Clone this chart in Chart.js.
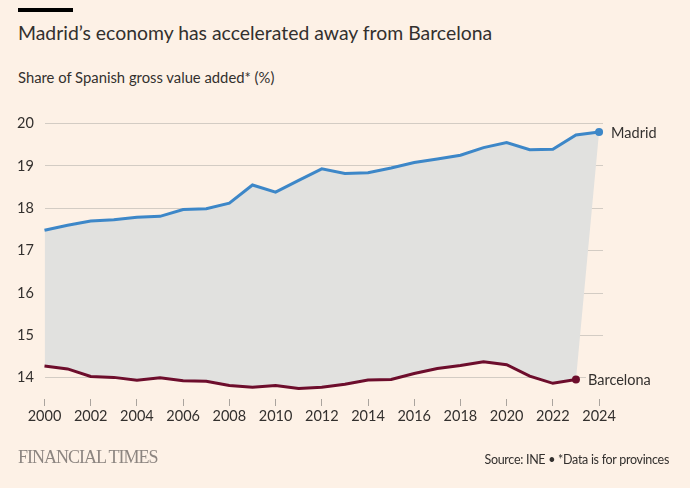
<!DOCTYPE html>
<html>
<head>
<meta charset="utf-8">
<script src="https://cdn.jsdelivr.net/npm/chart.js@4/dist/chart.umd.min.js"></script>
<style>
  body { margin: 0; background: #fdf1e6; width: 690px; height: 488px; overflow: hidden; position: relative; font-family: Lato, sans-serif; color: #33302e; }
  #chart-wrap { position: absolute; left: 0; top: 0; width: 690px; height: 488px; }
  .bar { position: absolute; left: 18px; top: 8px; width: 55px; height: 4px; background: #000; }
  .title { position: absolute; left: 18px; top: 21px; font-size: 19.4px; white-space: nowrap; }
  .subtitle { position: absolute; left: 18px; top: 68px; font-size: 14.8px; white-space: nowrap; }
  .ft { position: absolute; left: 18px; top: 447px; font-family: "Liberation Serif", serif; font-size: 18px; color: #8c8580; letter-spacing: -1px; }
  .source { position: absolute; right: 21px; top: 452px; font-size: 12.5px; letter-spacing: -0.3px; white-space: nowrap; }
</style>
</head>
<body>
<div class="bar"></div>
<div class="title">Madrid’s economy has accelerated away from Barcelona</div>
<div class="subtitle">Share of Spanish gross value added* (%)</div>
<div id="chart-wrap"><canvas id="gva-chart"></canvas></div>
<div class="ft">FINANCIAL TIMES</div>
<div class="source">Source: INE • *Data is for provinces</div>

<script>
const years = [2000, 2001, 2002, 2003, 2004, 2005, 2006, 2007, 2008, 2009, 2010, 2011, 2012,
               2013, 2014, 2015, 2016, 2017, 2018, 2019, 2020, 2021, 2022, 2023, 2024];
const madrid = [17.48, 17.60, 17.70, 17.73, 17.79, 17.81, 17.97, 17.99, 18.12, 18.55, 18.38, 18.66, 18.93,
                18.82, 18.84, 18.95, 19.08, 19.16, 19.25, 19.43, 19.55, 19.38, 19.39, 19.73, 19.80];
const barcelona = [14.28, 14.21, 14.03, 14.01, 13.94, 14.00, 13.93, 13.92, 13.82, 13.78, 13.82, 13.75, 13.78,
                   13.85, 13.95, 13.96, 14.10, 14.22, 14.29, 14.38, 14.31, 14.04, 13.87, 13.96];
const yTicks = [14, 15, 16, 17, 18, 19, 20];
const xTicks = [2000, 2002, 2004, 2006, 2008, 2010, 2012, 2014, 2016, 2018, 2020, 2022, 2024];

const toPoints = vals => vals.map((v, i) => ({ x: years[i], y: v }));
// lower edge of the shaded gap: Barcelona, then closing up to Madrid's last year
const gapEdge = toPoints(barcelona.concat([madrid[madrid.length - 1]]));
const lastOnly = (n, r) => Array.from({ length: n }, (_, i) => i === n - 1 ? r : 0);

const endLabels = {
    id: 'endLabels',
    afterDatasetsDraw(chart) {
        const ctx = chart.ctx;
        ctx.save();
        ctx.font = '14.5px Lato, sans-serif';
        ctx.textBaseline = 'middle';
        [[0, 'Madrid'], [1, 'Barcelona']].forEach(([idx, name]) => {
            const pts = chart.getDatasetMeta(idx).data;
            const p = pts[pts.length - 1];
            const x = p.x + 12;
            const w = ctx.measureText(name).width;
            ctx.fillStyle = '#fdf1e6';
            ctx.fillRect(x - 2, p.y - 9, w + 4, 18);
            ctx.fillStyle = '#33302e';
            ctx.fillText(name, x, p.y + 1);
        });
        ctx.restore();
    }
};

new Chart(document.getElementById('gva-chart').getContext('2d'), {
    type: 'line',
    data: {
        datasets: [
            {
                label: 'Madrid',
                data: toPoints(madrid),
                borderColor: '#3d87c8',
                backgroundColor: '#e1e1df',
                borderWidth: 3,
                pointRadius: lastOnly(madrid.length, 4),
                pointBackgroundColor: '#3d87c8',
                pointBorderWidth: 0,
                fill: { target: 2 },
                tension: 0
            },
            {
                label: 'Barcelona',
                data: toPoints(barcelona),
                borderColor: '#6d0d2c',
                borderWidth: 3,
                pointRadius: lastOnly(barcelona.length, 4),
                pointBackgroundColor: '#6d0d2c',
                pointBorderWidth: 0,
                fill: false,
                tension: 0
            },
            {
                label: 'gap',
                data: gapEdge,
                borderColor: 'transparent',
                borderWidth: 0,
                pointRadius: 0,
                fill: false
            }
        ]
    },
    options: {
        responsive: true,
        maintainAspectRatio: false,
        animation: false,
        clip: false,
        events: [],
        layout: { padding: { left: 17, right: 87, top: 123.5, bottom: 59 } },
        plugins: {
            legend: { display: false },
            tooltip: { enabled: false },
            filler: { drawTime: 'beforeDatasetsDraw' }
        },
        scales: {
            x: {
                type: 'linear',
                min: 2000,
                max: 2024.17,
                afterBuildTicks: axis => { axis.ticks = xTicks.map(v => ({ value: v })); },
                afterFit: scale => { scale.height = 30; },
                border: { display: false },
                grid: { drawOnChartArea: false, drawTicks: true, tickLength: 7, color: '#aaa49e' },
                ticks: { color: '#33302e', font: { family: 'Lato', size: 14.5 }, padding: 2, maxRotation: 0, callback: v => String(v) }
            },
            y: {
                min: 13.5,
                max: 20,
                afterBuildTicks: axis => { axis.ticks = yTicks.map(v => ({ value: v })); },
                afterFit: scale => { scale.width = 27.5; },
                border: { display: false },
                grid: { color: '#d3ccc4', drawTicks: false, lineWidth: 1 },
                ticks: { color: '#33302e', font: { family: 'Lato', size: 14.5 }, crossAlign: 'far', padding: 0 }
            }
        }
    },
    plugins: [endLabels]
});
</script>
</body>
</html>
